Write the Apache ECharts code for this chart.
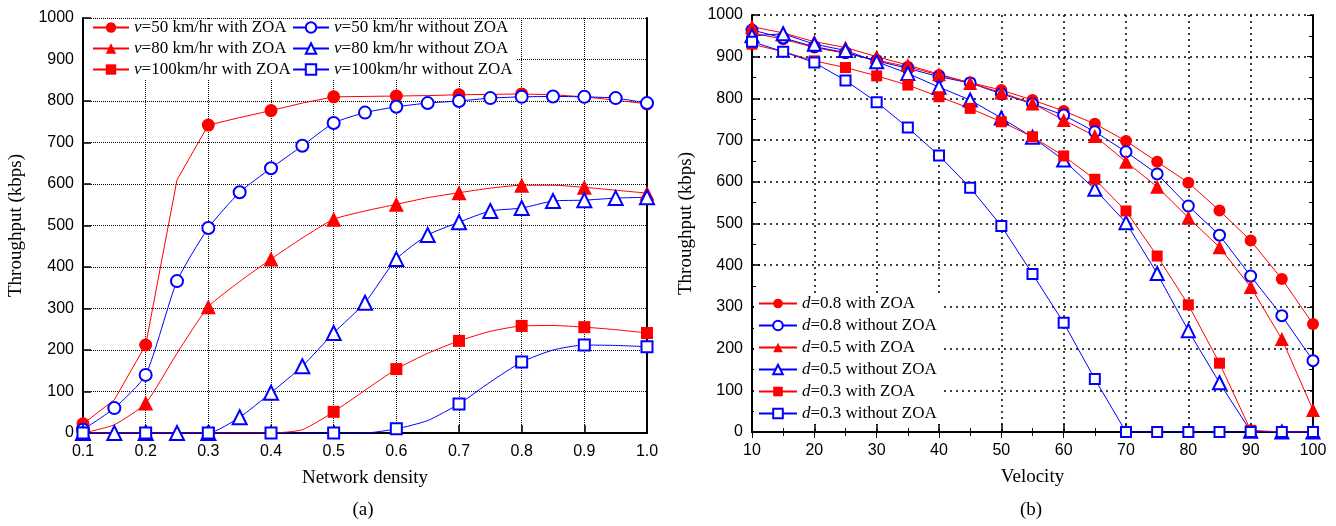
<!DOCTYPE html>
<html>
<head>
<meta charset="utf-8">
<script src="https://cdn.jsdelivr.net/npm/echarts@6/dist/echarts.min.js"></script>
<style>
  html, body { margin: 0; padding: 0; background: #fff; }
  #chart { width: 1336px; height: 526px; }
</style>
</head>
<body>
<div id="chart"></div>
<script>
// ---- (a) throughput vs network density ----
const density = [0.1, 0.15, 0.2, 0.25, 0.3, 0.35, 0.4, 0.45, 0.5, 0.55,
                 0.6, 0.65, 0.7, 0.75, 0.8, 0.85, 0.9, 0.95, 1.0];
const v50With     = [22, 80, 212, 610, 742, 760, 777, 795, 810, 811, 812, 813, 815, 816, 817, 815, 810, 802, 793];
const v50Without  = [8, 60, 140, 366, 494, 580, 638, 692, 747, 772, 786, 795, 800, 807, 810, 811, 810, 807, 795];
const v80With     = [0, 20, 72, 192, 304, 365, 419, 470, 515, 535, 551, 567, 579, 590, 597, 597, 592, 585, 578];
const v80Without  = [0, 0, 0, 0, 0, 38, 97, 161, 241, 314, 419, 477, 508, 535, 542, 559, 561, 566, 568];
const v100With   = [0, 0, 0, 0, 0, 0, 0, 8, 51, 103, 154, 192, 222, 245, 258, 259, 255, 249, 241];
const v100Without= [0, 0, 0, 0, 0, 0, 0, 0, 0, 0, 10, 30, 70, 123, 171, 200, 212, 211, 208];

// ---- (b) throughput vs velocity ----
const velocity = [10, 15, 20, 25, 30, 35, 40, 45, 50, 55, 60, 65, 70, 75, 80, 85, 90, 95, 100];
const d08With    = [957, 942, 922, 908, 892, 876, 856, 838, 820, 796, 770, 739, 698, 648, 598, 531, 459, 367, 259];
const d08Without = [964, 945, 924, 910, 890, 872, 852, 837, 811, 787, 760, 720, 672, 619, 542, 472, 374, 279, 171];
const d05With    = [972, 957, 936, 922, 900, 880, 858, 837, 814, 788, 748, 710, 648, 588, 514, 443, 348, 223, 53];
const d05Without = [950, 955, 930, 915, 888, 860, 827, 796, 753, 707, 652, 582, 502, 380, 243, 118, 2, 0, 0];
const d03With    = [930, 912, 890, 874, 854, 832, 804, 776, 744, 708, 662, 606, 530, 422, 305, 165, 4, 0, 0];
const d03Without = [936, 912, 886, 843, 791, 730, 663, 586, 494, 379, 262, 127, 0, 0, 0, 0, 0, 0, 0];

const RED = '#ff0000';
const BLUE = '#0000ff';
const SERIF = 'Liberation Serif';
const SANS = 'Liberation Sans';

// sparse: markers only on every other point (the tenths); the rest are plain line vertices
function lineSeries(name, xs, ys, color, symbol, size, axis, sparse, smooth) {
  return {
    type: 'line',
    name: name,
    xAxisIndex: axis,
    yAxisIndex: axis,
    data: xs.map((x, i) => (sparse && i % 2 === 1)
      ? { value: [x, ys[i]], symbol: 'none' }
      : [x, ys[i]]),
    symbol: symbol,
    symbolSize: size,
    smooth: smooth,
    showAllSymbol: true,
    lineStyle: { color: color, width: 1 },
    itemStyle: { color: color, borderWidth: 1.3 },
    emphasis: { disabled: true },
    animation: false
  };
}

const frameLine = { show: true, lineStyle: { color: '#000', width: 2 } };

function valueAxis(gridIndex, position, min, max, interval, opts) {
  return Object.assign({
    type: 'value',
    gridIndex: gridIndex,
    position: position,
    min: min,
    max: max,
    interval: interval,
    axisLine: frameLine,
    axisTick: { show: true, inside: true, length: 8, lineStyle: { color: '#000', width: 1.5 } },
    axisLabel: { show: false },
    splitLine: { show: false }
  }, opts);
}

const tickLabel = { show: true, color: '#000', fontFamily: SANS, fontSize: 16, margin: 9 };
const axisNameStyle = { color: '#000', fontFamily: SERIF, fontSize: 19 };

const legendText = {
  color: '#000', fontFamily: SERIF, fontSize: 17,
  rich: { i: { fontStyle: 'italic', fontFamily: SERIF, fontSize: 17, color: '#000' } }
};
const italicFirst = name => '{i|' + name.charAt(0) + '}' + name.slice(1);
const plainNumber = v => String(v);

const option = {
  backgroundColor: '#fff',
  animation: false,
  grid: [
    { left: 83, top: 18, width: 564, height: 415 },
    { left: 752, top: 15, width: 561, height: 417 }
  ],
  xAxis: [
    valueAxis(0, 'bottom', 0.1, 1.0, 0.1, {
      axisLabel: Object.assign({}, tickLabel, { margin: 11, formatter: v => v.toFixed(1) }),
      splitLine: { show: true, lineStyle: { color: '#000', width: 1, type: [1, 1] } },
      name: 'Network density', nameLocation: 'middle', nameGap: 36, nameTextStyle: axisNameStyle
    }),
    valueAxis(0, 'top', 0.1, 1.0, 0.1, { axisTick: { show: false } }),
    valueAxis(1, 'bottom', 10, 100, 10, {
      axisLabel: Object.assign({}, tickLabel, { margin: 11, formatter: plainNumber }),
      minorTick: { show: true, splitNumber: 2, length: 4, lineStyle: { color: '#000' } },
      splitLine: { show: true, lineStyle: { color: '#000', width: 1.5, type: [2, 4] } },
      name: 'Velocity', nameLocation: 'middle', nameGap: 36, nameTextStyle: axisNameStyle
    }),
    valueAxis(1, 'top', 10, 100, 10, {
      axisTick: { show: true, inside: true, length: 6, lineStyle: { color: '#000' } },
      minorTick: { show: true, splitNumber: 2, length: 4, lineStyle: { color: '#000' } }
    })
  ],
  yAxis: [
    valueAxis(0, 'left', 0, 1000, 100, {
      axisLabel: Object.assign({}, tickLabel, { formatter: plainNumber }),
      splitLine: { show: true, lineStyle: { color: '#000', width: 1, type: [1, 1] } },
      name: 'Throughput (kbps)', nameLocation: 'middle', nameGap: 57, nameTextStyle: axisNameStyle
    }),
    valueAxis(0, 'right', 0, 1000, 100, { axisTick: { show: false } }),
    valueAxis(1, 'left', 0, 1000, 100, {
      axisLabel: Object.assign({}, tickLabel, { formatter: plainNumber }),
      minorTick: { show: true, splitNumber: 2, length: 4, lineStyle: { color: '#000' } },
      splitLine: { show: true, lineStyle: { color: '#000', width: 1.5, type: [2, 4] } },
      name: 'Throughput (kbps)', nameLocation: 'middle', nameGap: 56, nameTextStyle: axisNameStyle
    }),
    valueAxis(1, 'right', 0, 1000, 100, {
      axisTick: { show: true, inside: true, length: 6, lineStyle: { color: '#000' } },
      minorTick: { show: true, splitNumber: 2, length: 4, lineStyle: { color: '#000' } }
    })
  ],
  legend: [
    {
      orient: 'vertical', left: 84, top: 19, padding: [0, 8, 2, 8],
      itemWidth: 36, itemHeight: 13, itemGap: 4, selectedMode: false,
      backgroundColor: '#fff',
      data: ['v=50 km/hr with ZOA', 'v=80 km/hr with ZOA', 'v=100km/hr with ZOA'],
      formatter: italicFirst, textStyle: legendText
    },
    {
      orient: 'vertical', left: 284, top: 19, padding: [0, 4, 2, 8],
      itemWidth: 36, itemHeight: 13, itemGap: 4, selectedMode: false,
      backgroundColor: '#fff',
      data: ['v=50 km/hr without ZOA', 'v=80 km/hr without ZOA', 'v=100km/hr without ZOA'],
      formatter: italicFirst, textStyle: legendText
    },
    {
      orient: 'vertical', left: 754, top: 293, padding: [2, 4, 2, 4],
      itemWidth: 38, itemHeight: 12, itemGap: 5, selectedMode: false,
      backgroundColor: '#fff',
      data: ['d=0.8 with ZOA', 'd=0.8 without ZOA', 'd=0.5 with ZOA',
             'd=0.5 without ZOA', 'd=0.3 with ZOA', 'd=0.3 without ZOA'],
      formatter: italicFirst, textStyle: legendText
    }
  ],
  graphic: [
    { type: 'text', x: 363, y: 510, style: { text: '(a)', fontFamily: SERIF, fontSize: 19, fill: '#000', align: 'center', verticalAlign: 'middle' } },
    { type: 'text', x: 1031, y: 510, style: { text: '(b)', fontFamily: SERIF, fontSize: 19, fill: '#000', align: 'center', verticalAlign: 'middle' } }
  ],
  series: [
    lineSeries('v=50 km/hr with ZOA', density, v50With, RED, 'circle', 13, 0, true, false),
    lineSeries('v=50 km/hr without ZOA', density, v50Without, BLUE, 'emptyCircle', 12, 0, false, 0.2),
    lineSeries('v=80 km/hr with ZOA', density, v80With, RED, 'triangle', 15, 0, true, 0.2),
    lineSeries('v=80 km/hr without ZOA', density, v80Without, BLUE, 'emptyTriangle', 14, 0, false, 0.2),
    lineSeries('v=100km/hr with ZOA', density, v100With, RED, 'rect', 12, 0, true, 0.2),
    lineSeries('v=100km/hr without ZOA', density, v100Without, BLUE, 'emptyRect', 11, 0, true, 0.2),

    lineSeries('d=0.8 with ZOA', velocity, d08With, RED, 'circle', 12, 2, false, false),
    lineSeries('d=0.8 without ZOA', velocity, d08Without, BLUE, 'emptyCircle', 11, 2, false, false),
    lineSeries('d=0.5 with ZOA', velocity, d05With, RED, 'triangle', 14, 2, false, false),
    lineSeries('d=0.5 without ZOA', velocity, d05Without, BLUE, 'emptyTriangle', 13, 2, false, false),
    lineSeries('d=0.3 with ZOA', velocity, d03With, RED, 'rect', 11, 2, false, false),
    lineSeries('d=0.3 without ZOA', velocity, d03Without, BLUE, 'emptyRect', 10, 2, false, false)
  ]
};

const chart = echarts.init(document.getElementById('chart'), null, { renderer: 'canvas' });
chart.setOption(option);
</script>
</body>
</html>
